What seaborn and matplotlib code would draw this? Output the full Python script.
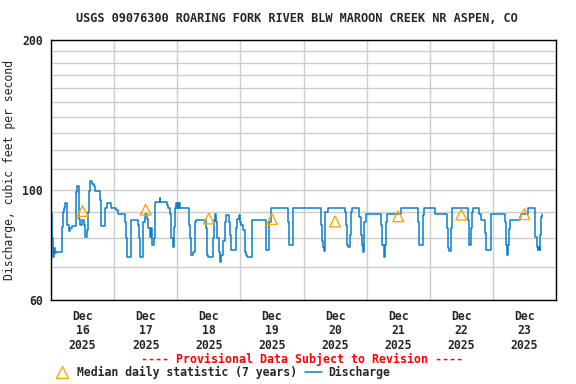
import numpy as np
import matplotlib
matplotlib.use("Agg")
import matplotlib.pyplot as plt
import matplotlib.dates as mdates
from matplotlib.ticker import FixedLocator, FixedFormatter, NullLocator
from matplotlib.lines import Line2D
import seaborn as sns
import pandas as pd

start = pd.Timestamp("2025-12-16")

# discharge: hours since Dec 16 00:00 and cfs (step changes)
discharge_hours = [
    0.0, 0.4, 0.8, 1.2, 1.5, 1.9, 4.0, 4.4, 5.0, 5.5, 6.2, 6.8, 7.4, 7.9,
    9.6, 9.9, 10.5, 10.8, 11.2, 11.9, 12.4, 12.8, 13.1, 13.5, 13.9, 14.2,
    14.6, 15.0, 15.5, 16.2, 16.6, 18.6, 19.1, 20.7, 21.2, 22.8, 24.8, 25.4,
    28.0, 28.4, 28.9, 30.5, 33.1, 33.5, 34.0, 35.0, 35.6, 36.4, 37.0, 37.6,
    38.0, 38.5, 39.0, 39.6, 41.3, 41.6, 44.1, 44.6, 45.1, 45.8, 46.4, 46.9,
    47.3, 47.6, 47.9, 48.2, 48.5, 48.8, 49.1,
    52.4, 52.9, 53.4, 53.9, 54.6, 55.0, 58.9, 59.4, 59.8, 61.6, 61.9, 62.4,
    62.8, 63.3, 63.7, 64.2, 64.8, 65.5, 66.0, 66.6, 67.7, 68.0, 68.5, 70.3,
    70.8, 71.3, 71.7, 72.4, 73.0, 73.6, 74.3, 74.7, 76.4, 81.7, 82.9, 83.6,
    90.0, 90.3, 92.1,
    102.7, 103.1, 103.4, 103.7, 104.0, 104.3, 105.5, 111.7, 112.1, 112.6,
    113.0, 113.6, 114.0, 114.5, 117.2, 117.7, 118.2, 118.6, 119.1, 119.6,
    125.5, 125.9, 126.6, 127.0, 127.4, 127.8, 133.1, 139.4, 139.8, 140.1,
    141.4, 141.9,
    146.1, 150.4, 150.7, 151.0, 151.3, 152.0, 152.3, 152.6, 158.5, 158.8,
    159.1, 159.5, 159.8, 160.2, 160.6, 162.9, 163.3, 164.9, 165.4, 167.2,
    172.5, 172.9, 173.3, 173.8, 174.1, 174.5, 178.2, 178.8, 181.5, 183.9,
    184.2, 184.6, 185.0, 185.3, 185.6, 185.8, 186.1, 186.3, 186.6, 186.8,
]
discharge_cfs = [
    89.2, 80.0, 73.3, 76.5, 74.5, 75.1, 84.3, 90.3, 92.0, 93.9, 84.9, 82.4, 83.6, 84.6,
    99.0, 101.9, 99.0, 87.5, 84.9, 86.9, 84.9, 83.0, 80.5, 83.0, 87.5, 90.3,
    99.2, 104.1, 102.5, 101.5, 99.4, 95.3, 84.6, 91.7, 93.9, 91.7, 91.0, 89.2,
    86.2, 79.9, 73.3, 86.9, 84.9, 79.9, 73.3, 86.2, 89.2, 87.5, 83.6, 80.5,
    83.6, 77.4, 79.9, 94.6, 96.4, 94.6, 93.2, 91.7, 89.2, 79.9, 76.8, 84.3,
    91.7, 93.9, 91.7, 93.9, 91.7, 93.9, 91.7,
    85.0, 79.9, 74.0, 75.1, 86.2, 86.9, 83.6, 73.9, 73.3, 79.9, 86.9, 89.2,
    86.2, 79.9, 75.1, 71.5, 73.9, 78.7, 86.2, 88.9, 86.2, 81.1, 75.6, 83.6,
    87.5, 88.9, 86.2, 84.9, 83.0, 75.1, 73.9, 73.3, 86.9, 75.6, 86.2, 91.7,
    86.2, 77.4, 91.7,
    84.9, 78.7, 76.8, 75.3, 86.2, 90.3, 91.7, 90.3, 84.9, 77.4,
    76.8, 81.1, 90.3, 91.7, 88.2, 81.1, 77.4, 75.1, 86.2, 89.2,
    84.9, 77.4, 73.3, 77.4, 86.2, 89.2, 91.7, 86.2, 79.9, 77.4,
    88.9, 91.7,
    89.2, 86.2, 83.6, 76.3, 75.3, 83.6, 89.2, 91.7, 86.9, 78.1,
    77.4, 80.5, 83.6, 90.3, 91.7, 89.5, 86.9, 81.7, 75.6, 89.2,
    86.2, 77.4, 73.9, 77.4, 83.3, 86.9, 88.2, 89.2, 91.7, 88.2,
    80.5, 76.8, 75.6, 76.8, 76.3, 75.6, 81.1, 88.2, 89.2, 89.2,
]

# median daily statistic (7 years), one per day at noon
median_days = [16, 17, 18, 19, 20, 21, 22, 23]
median_cfs = [90.6, 91.2, 87.5, 87.3, 86.3, 88.4, 89.1, 89.3]

y_ticks = list(range(60, 201, 10))
y_labels = ["60", "", "", "", "100", "", "", "", "", "", "", "", "", "", "200"]

df = pd.DataFrame({
    "time": start + pd.to_timedelta(discharge_hours, unit="h"),
    "cfs": discharge_cfs,
})
med = pd.DataFrame({
    "time": [pd.Timestamp(2025, 12, d, 12) for d in median_days],
    "cfs": median_cfs,
})

sns.set_style("white")
plt.rcParams["font.family"] = ["DejaVu Sans Mono"]
plt.rcParams["font.weight"] = "bold"
plt.rcParams["font.size"] = 8.3

blue = "#0a7fcc"
orange = "#ffa500"

fig = plt.figure(figsize=(5.76, 3.84), dpi=100)
ax = fig.add_axes([51 / 576, 84 / 384, 505 / 576, 260 / 384])

sns.lineplot(data=df, x="time", y="cfs", ax=ax, color=blue, lw=1.1,
             drawstyle="steps-post", estimator=None, legend=False)
sns.scatterplot(data=med, x="time", y="cfs", ax=ax, marker="^", s=60,
                facecolor="none", edgecolor=orange, linewidth=1.0,
                legend=False, zorder=3)

ax.set_yscale("log")
ax.set_ylim(60, 200)
ax.yaxis.set_major_locator(FixedLocator(y_ticks))
ax.yaxis.set_major_formatter(FixedFormatter(y_labels))
ax.yaxis.set_minor_locator(NullLocator())

ax.set_xlim(start, start + pd.Timedelta(days=8))
ax.xaxis.set_major_locator(mdates.DayLocator())
ax.xaxis.set_major_formatter(plt.NullFormatter())
ax.xaxis.set_minor_locator(mdates.HourLocator(byhour=12))
ax.xaxis.set_minor_formatter(mdates.DateFormatter("%b\n%d\n%Y"))
ax.tick_params(axis="x", which="both", length=0, pad=7)
ax.tick_params(axis="y", which="both", length=0, pad=6)
for lab in ax.get_xticklabels(minor=True):
    lab.set_linespacing(1.15)

ax.grid(True, which="major", color="#cccccc", lw=1)
for s in ax.spines.values():
    s.set_color("black")
    s.set_linewidth(1)

ax.set_xlabel("")
ax.set_ylabel("Discharge, cubic feet per second", labelpad=4)

fig.text(297 / 576, 1 - 19 / 384, "USGS 09076300 ROARING FORK RIVER BLW MAROON CREEK NR ASPEN, CO",
         ha="center", va="center", fontsize=8.55)
fig.text(302 / 576, 1 - 359 / 384, "---- Provisional Data Subject to Revision ----",
         ha="center", va="center", color="red", fontsize=8.4)

handles = [
    Line2D([], [], ls="none", marker="^", mfc="none", mec=orange, ms=8, mew=1),
    Line2D([], [], color=blue, lw=1.1),
]
fig.legend(handles, ["Median daily statistic (7 years)", "Discharge"], ncol=2,
           loc="center left", bbox_to_anchor=(54 / 576, 1 - 372 / 384),
           frameon=False, borderpad=0, borderaxespad=0, handlelength=1.45,
           handletextpad=0.55, columnspacing=0.7)

fig.savefig("out.png", dpi=100)
